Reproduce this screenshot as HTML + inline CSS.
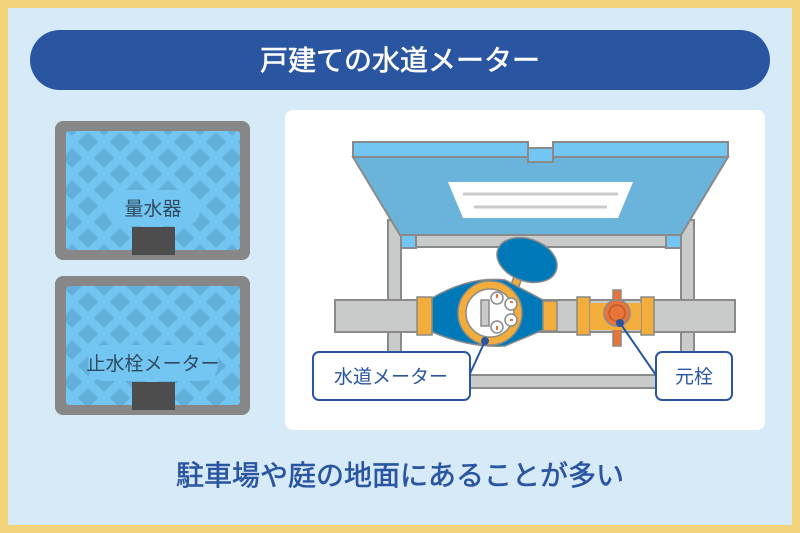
<!DOCTYPE html><html><head><meta charset="utf-8"><style>body{margin:0}svg{display:block}text{font-family:"Liberation Sans","Noto Sans CJK JP",sans-serif}</style></head><body>
<svg width="800" height="533" viewBox="0 0 800 533">
<defs>
<pattern id="lat" x="72" y="126" width="32" height="32" patternUnits="userSpaceOnUse">
<rect width="32" height="32" fill="#73c6f2"/>
<path d="M16 6 L26 16 L16 26 L6 16Z" fill="#62afda"/>
<path d="M0 -10 L10 0 L0 10 L-10 0Z M32 -10 L42 0 L32 10 L22 0Z M0 22 L10 32 L0 42 L-10 32Z M32 22 L42 32 L32 42 L22 32Z" fill="#62afda"/>
</pattern>
</defs>
<rect width="800" height="533" fill="#f3d37a"/>
<rect x="8" y="8" width="784" height="517" fill="#d6ebf7"/>
<rect x="30" y="30" width="740" height="60" rx="30" fill="#2a55a0"/>
<text x="400" y="70" font-size="28" fill="#fff" stroke="#fff" stroke-width="0.6" text-anchor="middle">戸建ての水道メーター</text>
<!-- left boxes -->
<rect x="55" y="121" width="195" height="139" rx="8" fill="#878787"/>
<rect x="66" y="131" width="174" height="119" rx="3" fill="url(#lat)"/>
<rect x="106" y="190" width="94" height="36" rx="16" fill="#73c6f2"/>
<text x="153" y="215" font-size="19" fill="#2f4a5e" text-anchor="middle">量水器</text>
<rect x="132" y="227" width="43" height="28" fill="#4d4d4d"/>
<rect x="55" y="276" width="195" height="139" rx="8" fill="#878787"/>
<rect x="66" y="286" width="174" height="119" rx="3" fill="url(#lat)"/>
<rect x="88" y="345" width="130" height="36" rx="16" fill="#73c6f2"/>
<text x="153" y="370" font-size="19" fill="#2f4a5e" text-anchor="middle">止水栓メーター</text>
<rect x="132" y="382" width="43" height="28" fill="#4d4d4d"/>
<!-- panel -->
<rect x="285" y="110" width="480" height="320" rx="8" fill="#fff"/>
<g stroke="#8a8a8a" stroke-width="2">
<rect x="388" y="220" width="13" height="170" fill="#c9cbcb"/>
<rect x="681" y="220" width="13" height="170" fill="#c9cbcb"/>
<rect x="401" y="235" width="280" height="12" fill="#c9cbcb"/>
<rect x="401" y="375" width="280" height="13" fill="#c9cbcb"/>
<rect x="401" y="235" width="15" height="13" fill="#73c6f2"/>
<rect x="666" y="235" width="15" height="13" fill="#73c6f2"/>
<path d="M353 157 L728 157 L681 235 L400 235Z" fill="#6ab4dc"/>
<path d="M353 142 L528 142 L528 148 L553 148 L553 142 L728 142 L728 157 L353 157Z" fill="#73c6f2"/>
<rect x="528" y="148" width="25" height="14" fill="#73c6f2"/>
<rect x="335" y="300" width="400" height="32" fill="#c9cbcb"/>
</g>
<path d="M448 182 L633 182 L618 218 L463 218Z" fill="#fff"/>
<line x1="463" y1="194" x2="618" y2="194" stroke="#c9cbcb" stroke-width="3"/>
<line x1="474" y1="207" x2="607" y2="207" stroke="#c9cbcb" stroke-width="3"/>
<!-- meter -->
<g stroke="#8a8a8a" stroke-width="1.5">
<rect x="513" y="270" width="8" height="20" fill="#f2ad3c" transform="rotate(20 517 280)"/>
<ellipse cx="527" cy="260" rx="31" ry="21" fill="#0079b8" transform="rotate(20 527 260)"/>
<path d="M432 298 Q470 276 505 280 L543 300 L543 330 L505 346 Q470 348 432 332Z" fill="#0079b8"/>
<rect x="417" y="297" width="15" height="38" fill="#f2ad3c"/>
<rect x="543" y="301" width="14" height="30" fill="#f2ad3c"/>
<circle cx="490" cy="313" r="32" fill="#f2ad3c"/>
<circle cx="490" cy="313" r="24" fill="#fff"/>
<rect x="481" y="300" width="8" height="26" fill="#c9cbcb"/>
<circle cx="497" cy="298" r="6" fill="#fff"/><circle cx="511" cy="304" r="6" fill="#fff"/>
<circle cx="511" cy="320" r="6" fill="#fff"/><circle cx="497" cy="327" r="6" fill="#fff"/>
<rect x="613" y="290" width="8" height="56" fill="#e8743a"/>
<rect x="577" y="297" width="13" height="38" fill="#f2ad3c"/>
<rect x="641" y="297" width="13" height="38" fill="#f2ad3c"/>
<rect x="590" y="303" width="51" height="27" fill="#f2ad3c" stroke="none"/>
<circle cx="617" cy="313" r="13" fill="#e8743a"/>
<circle cx="617" cy="313" r="8" fill="#e8743a" stroke="#c05a2a"/>
</g>
<g fill="#e8743a"><rect x="496" y="294" width="2" height="4"/><rect x="510" y="301" width="3" height="2"/><rect x="510" y="319" width="3" height="2"/><rect x="496" y="326" width="2" height="4"/></g>
<!-- labels -->
<g stroke="#2a55a0" stroke-width="2">
<line x1="485" y1="341" x2="468" y2="378"/>
<circle cx="485" cy="341" r="3" fill="#2a55a0"/>
<line x1="620" y1="323" x2="658" y2="378"/>
<circle cx="620" cy="323" r="3" fill="#2a55a0"/>
<rect x="313" y="352" width="157" height="48" rx="6" fill="#fff"/>
<rect x="656" y="352" width="76" height="48" rx="6" fill="#fff"/>
</g>
<text x="391" y="383" font-size="19" fill="#2a55a0" text-anchor="middle">水道メーター</text>
<text x="694" y="383" font-size="19" fill="#2a55a0" text-anchor="middle">元栓</text>
<text x="400" y="485" font-size="28" fill="#2a55a0" stroke="#2a55a0" stroke-width="0.6" text-anchor="middle">駐車場や庭の地面にあることが多い</text>
</svg></body></html>
